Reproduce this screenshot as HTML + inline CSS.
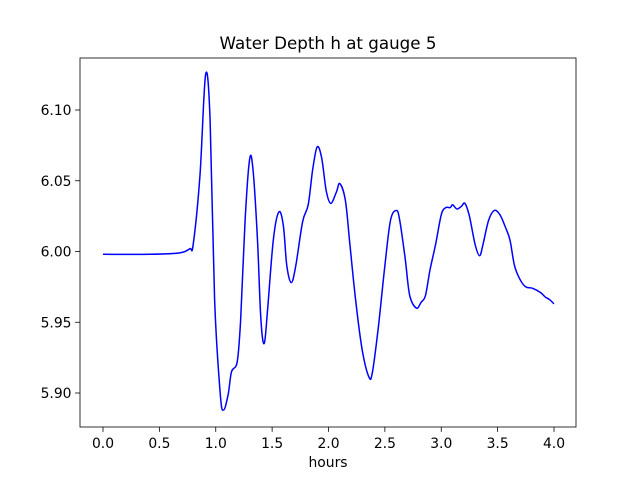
<!DOCTYPE html>
<html><head><meta charset="utf-8"><style>
body{margin:0;background:#fff;font-family:"Liberation Sans","DejaVu Sans",sans-serif}
svg text{font-family:"DejaVu Sans","Liberation Sans",sans-serif}
</style></head><body>
<svg id="chart" width="640" height="480" viewBox="0 0 640 480" xmlns="http://www.w3.org/2000/svg">
<rect width="640" height="480" fill="#fff"/>
<g id="plot"></g>
</svg>
<script>
const hours=[0,0.42,0.68,0.77,0.80,0.86,0.91,0.95,0.99,1.04,1.07,1.11,1.14,1.19,1.22,1.26,1.30,1.33,1.37,1.40,1.43,1.46,1.51,1.56,1.60,1.63,1.67,1.71,1.77,1.82,1.86,1.90,1.94,1.98,2.02,2.07,2.10,2.15,2.19,2.24,2.30,2.36,2.39,2.44,2.50,2.55,2.60,2.63,2.68,2.72,2.78,2.82,2.86,2.90,2.95,3.00,3.04,3.08,3.10,3.14,3.18,3.21,3.25,3.30,3.34,3.37,3.42,3.47,3.52,3.57,3.61,3.65,3.70,3.75,3.81,3.88,3.92,3.96,4.0];
const depth=[5.998,5.998,5.999,6.002,6.005,6.054,6.125,6.093,5.966,5.899,5.888,5.899,5.915,5.922,5.951,6.022,6.065,6.058,6.008,5.952,5.935,5.959,6.008,6.028,6.018,5.990,5.978,5.990,6.021,6.033,6.058,6.074,6.066,6.043,6.034,6.042,6.048,6.036,6.005,5.966,5.930,5.911,5.915,5.945,5.990,6.022,6.029,6.023,5.995,5.969,5.960,5.964,5.969,5.987,6.005,6.026,6.031,6.031,6.033,6.030,6.032,6.034,6.025,6.005,5.997,6.005,6.022,6.029,6.026,6.017,6.008,5.990,5.980,5.975,5.974,5.971,5.968,5.966,5.963];
const xTicks=[0.0,0.5,1.0,1.5,2.0,2.5,3.0,3.5,4.0];
const yTicks=[5.90,5.95,6.00,6.05,6.10];
const L=80,R=576,T=58,B=427;
const xs=v=>103+(v-0)*112.75;
const ys=v=>251.5-(v-6.0)*1415;
const NS="http://www.w3.org/2000/svg";
const g=document.getElementById('plot');
function mk(t,a,p){const e=document.createElementNS(NS,t);for(const k in a)e.setAttribute(k,a[k]);(p||g).appendChild(e);return e;}
const P=hours.map((h,i)=>[xs(h),ys(depth[i])]);
let d='M'+P[0][0].toFixed(1)+','+P[0][1].toFixed(1);
for(let i=0;i<P.length-1;i++){
 const p0=P[Math.max(0,i-1)],p1=P[i],p2=P[i+1],p3=P[Math.min(P.length-1,i+2)];
 const c1=[p1[0]+(p2[0]-p0[0])/6,p1[1]+(p2[1]-p0[1])/6];
 const c2=[p2[0]-(p3[0]-p1[0])/6,p2[1]-(p3[1]-p1[1])/6];
 d+='C'+c1[0].toFixed(1)+','+c1[1].toFixed(1)+' '+c2[0].toFixed(1)+','+c2[1].toFixed(1)+' '+p2[0].toFixed(1)+','+p2[1].toFixed(1);
}
const line=mk('path',{d:d,fill:'none',stroke:'#0000ff','stroke-width':1.5,'stroke-linejoin':'round'});


const frame=mk('rect',{x:L,y:T,width:R-L,height:B-T,fill:'none',stroke:'#000','stroke-width':0.8});


xTicks.forEach(v=>{const x=xs(v);
 mk('line',{x1:x,x2:x,y1:B,y2:B+4.9,stroke:'#000','stroke-width':0.8});
 const t=mk('text',{x:x,y:B+21,'text-anchor':'middle','font-size':13.9});t.textContent=v.toFixed(1);
 
 });
yTicks.forEach(v=>{const y=ys(v);
 mk('line',{x1:L-4.9,x2:L,y1:y,y2:y,stroke:'#000','stroke-width':0.8});
 const t=mk('text',{x:L-8.5,y:y+5,'text-anchor':'end','font-size':13.9});t.textContent=v.toFixed(2);
 
 });
const xl=mk('text',{x:328,y:467,'text-anchor':'middle','font-size':13.9});xl.textContent='hours';


const tt=mk('text',{x:328,y:49,'text-anchor':'middle','font-size':16.7});tt.textContent='Water Depth h at gauge 5';


</script>
</body></html>
